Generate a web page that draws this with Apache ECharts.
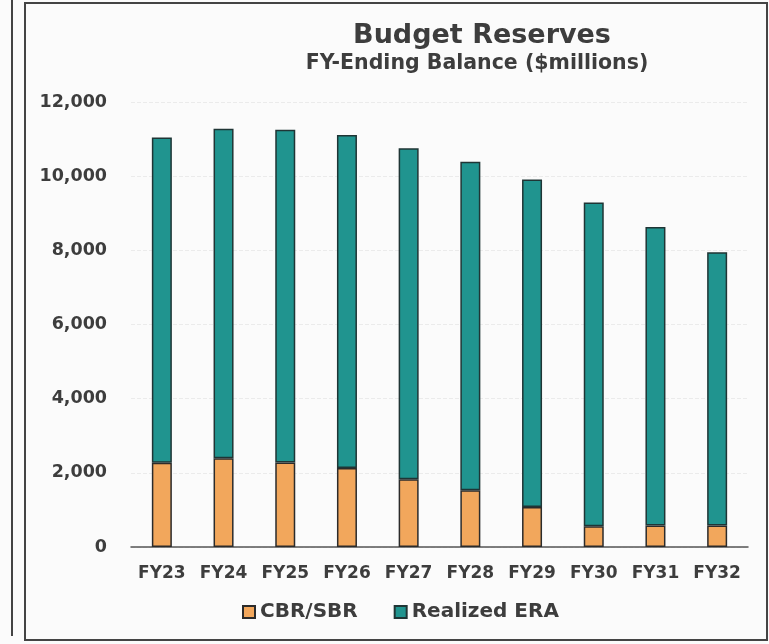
<!DOCTYPE html>
<html>
<head>
<meta charset="utf-8">
<script src="https://cdn.jsdelivr.net/npm/echarts@6/dist/echarts.min.js"></script>
<style>
html,body{margin:0;padding:0;background:#fbfbfb;}
#chart{width:769px;height:644px;}
</style>
</head>
<body>
<div id="chart"></div>
<script>
var categories = ['FY23','FY24','FY25','FY26','FY27','FY28','FY29','FY30','FY31','FY32'];
var cbrSbr = [2270, 2390, 2280, 2130, 1830, 1530, 1080, 560, 580, 580];
var realizedEra = [8770, 8890, 8970, 8980, 8920, 8860, 8830, 8730, 8050, 7370];
var yTicks = [0, 2000, 4000, 6000, 8000, 10000, 12000];

var FONT = '"DejaVu Sans", sans-serif';
var TXT = '#3d3d3d';
var chart = echarts.init(document.getElementById('chart'), null, {renderer: 'canvas'});
chart.setOption({
  backgroundColor: '#fbfbfb',
  animation: false,
  title: [
    {
      text: 'Budget Reserves',
      left: 477, top: 17, textAlign: 'center',
      textStyle: {fontFamily: FONT, fontWeight: 'bold', fontSize: 27, color: TXT}
    },
    {
      text: 'FY-Ending Balance ($millions)',
      left: 472, top: 48, textAlign: 'center',
      textStyle: {fontFamily: FONT, fontWeight: 'bold', fontSize: 20.5, color: TXT}
    }
  ],
  legend: {
    data: ['CBR/SBR', 'Realized ERA'],
    left: 237,
    top: 597,
    itemWidth: 12,
    itemHeight: 12,
    itemGap: 36,
    icon: 'rect',
    textStyle: {fontFamily: FONT, fontWeight: 'bold', fontSize: 20, color: TXT}
  },
  grid: {left: 131, right: 21, top: 102, bottom: 97, containLabel: false},
  xAxis: {
    type: 'category',
    data: categories,
    axisLine: {lineStyle: {color: '#555', width: 1.5}},
    axisTick: {show: false},
    axisLabel: {interval: 0, fontFamily: FONT, fontWeight: 'bold', fontSize: 17, color: TXT, margin: 18}
  },
  yAxis: {
    type: 'value',
    min: 0, max: 12000, interval: 2000,
    axisLine: {show: false},
    axisTick: {show: false},
    splitLine: {lineStyle: {color: '#ebebeb', type: 'dashed'}},
    axisLabel: {
      fontFamily: FONT, fontWeight: 'bold', fontSize: 17.5, color: TXT, margin: 24,
      formatter: function (v) { return yTicks.indexOf(v) >= 0 ? v.toLocaleString('en-US') : ''; }
    }
  },
  series: [
    {
      name: 'CBR/SBR', type: 'bar', stack: 'total', data: cbrSbr, barWidth: 20,
      itemStyle: {color: '#f2a75c', borderColor: '#2b2b2b', borderWidth: 1.5}
    },
    {
      name: 'Realized ERA', type: 'bar', stack: 'total', data: realizedEra, barWidth: 20,
      itemStyle: {color: '#20948f', borderColor: '#1f3535', borderWidth: 1.5}
    }
  ],
  graphic: [
    {type: 'line', shape: {x1: 12, y1: 0, x2: 12, y2: 636}, style: {stroke: '#444', lineWidth: 2}},
    {type: 'rect', shape: {x: 25, y: 3, width: 742, height: 637}, style: {fill: 'none', stroke: '#444', lineWidth: 2}}
  ]
});
</script>
</body>
</html>
